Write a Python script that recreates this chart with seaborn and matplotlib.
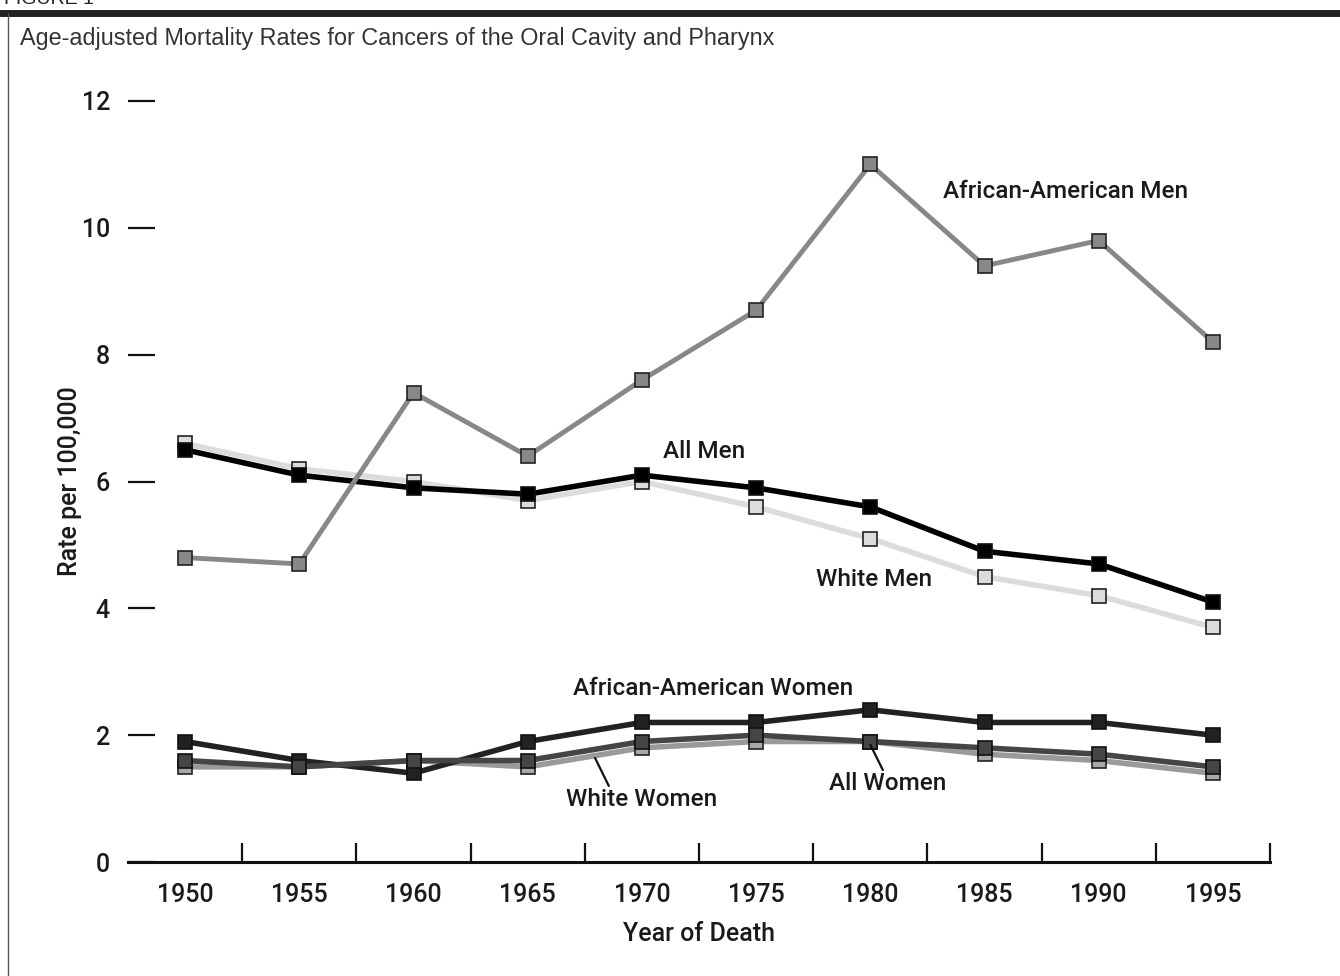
import pandas as pd
import numpy as np
import matplotlib.pyplot as plt
from matplotlib.lines import Line2D
import seaborn as sns

# data
years = [1950, 1955, 1960, 1965, 1970, 1975, 1980, 1985, 1990, 1995]
aa_men = [4.8, 4.7, 7.4, 6.4, 7.6, 8.7, 11.0, 9.4, 9.8, 8.2]
all_men = [6.5, 6.1, 5.9, 5.8, 6.1, 5.9, 5.6, 4.9, 4.7, 4.1]
white_men = [6.6, 6.2, 6.0, 5.7, 6.0, 5.6, 5.1, 4.5, 4.2, 3.7]
aa_women = [1.9, 1.6, 1.4, 1.9, 2.2, 2.2, 2.4, 2.2, 2.2, 2.0]
all_women = [1.6, 1.5, 1.6, 1.6, 1.9, 2.0, 1.9, 1.8, 1.7, 1.5]
white_women = [1.5, 1.5, 1.6, 1.5, 1.8, 1.9, 1.9, 1.7, 1.6, 1.4]

sns.set_style('white')
plt.rcParams['font.family'] = ['Roboto', 'DejaVu Sans']
W = 'medium'

pos = np.arange(len(years))

# (values, line colour, marker face, marker edge, line width) - drawn bottom to top
series = [
    (white_women, '#9a9a9a', '#a8a8a8', '#222222', 4.0),
    (aa_women, '#222222', '#222222', '#111111', 4.0),
    (all_women, '#454545', '#454545', '#111111', 4.0),
    (white_men, '#dcdcdc', '#dcdcdc', '#222222', 4.0),
    (all_men, '#000000', '#000000', '#111111', 4.0),
    (aa_men, '#888888', '#888888', '#222222', 3.5),
]

fig = plt.figure(figsize=(13.4, 9.76), dpi=100)
ax = fig.add_axes([128 / 1340, 114 / 976, 1142 / 1340, 761 / 976])

for z, (vals, lc, fc, ec, lw) in enumerate(series):
    df = pd.DataFrame({'pos': pos, 'rate': vals})
    sns.lineplot(data=df, x='pos', y='rate', ax=ax, color=lc, linewidth=lw,
                 marker='s', markersize=10.5, markerfacecolor=fc,
                 markeredgecolor=ec, markeredgewidth=1.2, zorder=3 + z,
                 clip_on=False)

ax.set_xlim(-0.5, len(years) - 0.5)
ax.set_ylim(0, 12)

# x ticks sit between the years, labels under the years
ax.set_xticks(np.arange(0.5, len(years), 1.0))
ax.set_xticklabels([])
ax.set_xticks(pos, minor=True)
ax.set_xticklabels([str(y) for y in years], minor=True, fontweight=W)
ax.tick_params(axis='x', which='major', direction='in', length=14, width=1.6,
               color='#111111', bottom=True)
ax.tick_params(axis='x', which='minor', length=0, pad=15, labelsize=18,
               labelcolor='#1a1a1a')
ax.set_yticks(np.arange(0, 13, 2))
ax.set_yticklabels([str(v) for v in range(0, 13, 2)], fontweight=W)
ax.tick_params(axis='y', direction='in', length=19.5, width=1.6, color='#111111',
               pad=13, labelsize=18, labelcolor='#1a1a1a', left=True)

for s in ['top', 'right', 'left']:
    ax.spines[s].set_visible(False)
ax.spines['bottom'].set_linewidth(2.2)
ax.spines['bottom'].set_color('#111111')

ax.set_xlabel('Year of Death', fontsize=18, color='#1a1a1a', fontweight=W)
ax.set_ylabel('Rate per 100,000', fontsize=18, color='#1a1a1a', fontweight=W)
ax.xaxis.set_label_coords(0.5, -0.079)
ax.yaxis.set_label_coords(-0.040, 0.5)

lab = dict(fontsize=17.5, color='#1a1a1a', ha='center', va='center', zorder=10,
           fontweight=W)
ax.text(7.71, 10.57, 'African-American Men', **lab)
ax.text(4.54, 6.48, 'All Men', **lab)
ax.text(6.03, 4.46, 'White Men', **lab)
ax.text(4.62, 2.74, 'African-American Women', **lab)
ax.text(4.0, 0.98, 'White Women', **lab)
ax.text(6.15, 1.23, 'All Women', **lab)
ax.plot([3.59, 3.71], [1.64, 1.2], color='#111111', lw=1.6, zorder=10)
ax.plot([6.0, 6.11], [1.85, 1.45], color='#111111', lw=1.6, zorder=10)

# page frame of the original figure
fig.add_artist(Line2D([0, 1], [1 - 13 / 976] * 2, color='#222222', lw=5))
fig.add_artist(Line2D([8 / 1340] * 2, [0, 1 - 13 / 976], color='#555555', lw=1))
fig.text(4 / 1340, 1 - 8 / 976, 'FIGURE 1', fontsize=14, color='#222222',
         va='bottom', family=['Liberation Sans', 'DejaVu Sans'])
fig.text(20 / 1340, 1 - 38 / 976,
         'Age-adjusted Mortality Rates for Cancers of the Oral Cavity and Pharynx',
         fontsize=16.8, color='#333333', va='center',
         family=['Liberation Sans', 'DejaVu Sans'])

fig.savefig('out.png', dpi=100)
